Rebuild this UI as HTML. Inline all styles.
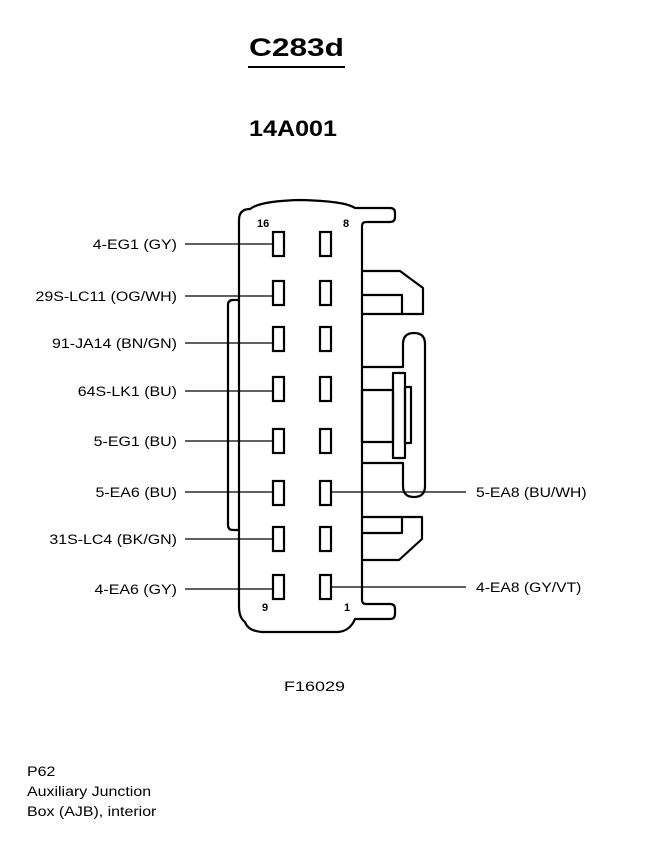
<!DOCTYPE html>
<html><head><meta charset="utf-8"><style>
html,body{margin:0;padding:0;background:#fff}
svg{display:block}
text{font-family:"Liberation Sans",sans-serif;fill:#000}
</style></head><body>
<svg width="672" height="842" viewBox="0 0 672 842" xmlns="http://www.w3.org/2000/svg">
<text x="249" y="56" font-size="25" font-weight="bold" textLength="95" lengthAdjust="spacingAndGlyphs">C283d</text>
<line x1="248" y1="67" x2="345" y2="67" stroke="#000" stroke-width="2"/>
<text x="249" y="136" font-size="22" font-weight="bold" textLength="88" lengthAdjust="spacingAndGlyphs">14A001</text>

<g fill="none" stroke="#000" stroke-width="2.2" stroke-linejoin="round">
<path d="M239 220 Q239 209 250 209 Q260 201 300 200 Q345 201 355 208 L390 208 Q395 208 395 213 L395 217 Q395 222 390 222 L366 222 Q362 222 362 226 L362 600 Q362 604 366 604 L390 604 Q395 604 395 609 L395 614 Q395 619 390 619 L355 619 Q350 631 338 632 L262 632 Q248 631 245 622 Q239 618 239 606 Z"/>
<path d="M239 300 L233 300 Q228 300 228 305 L228 525 Q228 530 233 530 L239 530"/>
<path d="M363 271 L400 271 L423 288 L423 314 L363 314"/>
<path d="M363 295 L402 295 L402 314"/>
<path d="M363 367 L403 367 L403 344 Q403 333 414 333 Q425 333 425 344 L425 486 Q425 497 414 497 Q403 497 403 486 L403 463 L363 463"/>
<rect x="362" y="390" width="31" height="52"/>
<rect x="393" y="373" width="12" height="85"/>
<rect x="405" y="387" width="6" height="56"/>
<path d="M363 517 L422 517 L422 539 L399 560 L363 560"/>
<path d="M402 517 L402 533 L363 533"/>
</g>

<g fill="#fff" stroke="#000" stroke-width="2.2">
<rect x="273" y="232" width="11" height="24"/><rect x="320" y="232" width="11" height="24"/>
<rect x="273" y="281" width="11" height="24"/><rect x="320" y="281" width="11" height="24"/>
<rect x="273" y="327" width="11" height="24"/><rect x="320" y="327" width="11" height="24"/>
<rect x="273" y="377" width="11" height="24"/><rect x="320" y="377" width="11" height="24"/>
<rect x="273" y="429" width="11" height="24"/><rect x="320" y="429" width="11" height="24"/>
<rect x="273" y="481" width="11" height="24"/><rect x="320" y="481" width="11" height="24"/>
<rect x="273" y="527" width="11" height="24"/><rect x="320" y="527" width="11" height="24"/>
<rect x="273" y="575" width="11" height="24"/><rect x="320" y="575" width="11" height="24"/>
</g>

<g stroke="#000" stroke-width="1.2">
<line x1="185" y1="244" x2="273" y2="244"/>
<line x1="185" y1="296" x2="273" y2="296"/>
<line x1="185" y1="343" x2="273" y2="343"/>
<line x1="185" y1="391" x2="273" y2="391"/>
<line x1="185" y1="441" x2="273" y2="441"/>
<line x1="185" y1="492" x2="273" y2="492"/>
<line x1="185" y1="539" x2="273" y2="539"/>
<line x1="185" y1="589" x2="273" y2="589"/>
<line x1="331" y1="492" x2="466" y2="492"/>
<line x1="331" y1="587" x2="466" y2="587"/>
</g>

<g font-size="14" text-anchor="end" transform="translate(177,0) scale(1.14,1) translate(-177,0)">
<text x="177" y="249">4-EG1 (GY)</text>
<text x="177" y="301">29S-LC11 (OG/WH)</text>
<text x="177" y="348">91-JA14 (BN/GN)</text>
<text x="177" y="396">64S-LK1 (BU)</text>
<text x="177" y="446">5-EG1 (BU)</text>
<text x="177" y="497">5-EA6 (BU)</text>
<text x="177" y="544">31S-LC4 (BK/GN)</text>
<text x="177" y="594">4-EA6 (GY)</text>
</g>
<g font-size="14" transform="translate(476,0) scale(1.12,1) translate(-476,0)">
<text x="476" y="497">5-EA8 (BU/WH)</text>
<text x="476" y="592">4-EA8 (GY/VT)</text>
</g>
<g font-size="11" font-weight="bold">
<text x="257" y="227">16</text>
<text x="343" y="227">8</text>
<text x="262" y="611">9</text>
<text x="344" y="611">1</text>
</g>
<text x="284" y="691" font-size="14" textLength="61" lengthAdjust="spacingAndGlyphs">F16029</text>
<g font-size="14" transform="translate(27,0) scale(1.14,1) translate(-27,0)">
<text x="27" y="776">P62</text>
<text x="27" y="796">Auxiliary Junction</text>
<text x="27" y="816">Box (AJB), interior</text>
</g>
</svg>
</body></html>
